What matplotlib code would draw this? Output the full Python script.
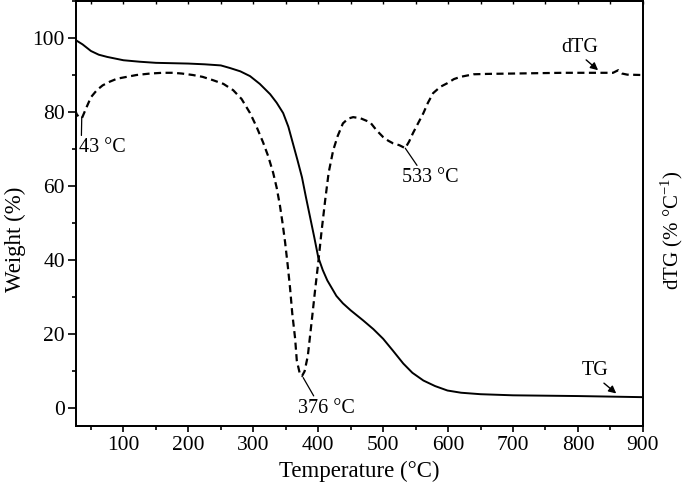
import matplotlib
matplotlib.use("Agg")
import matplotlib.pyplot as plt
from matplotlib.ticker import MultipleLocator

plt.rcParams['font.family'] = ['Liberation Serif', 'DejaVu Serif']
plt.rcParams['mathtext.fontset'] = 'custom'
plt.rcParams['mathtext.rm'] = 'Liberation Serif'

# TG curve (weight %)
tg_temp = [27, 37, 50, 62, 75, 100, 125, 150, 175, 200, 225, 250, 264, 280, 295, 310,
           326, 336, 346, 354, 361, 368, 375, 381, 387.5, 394, 400, 407, 414, 420, 428,
           438, 450, 469, 485, 500, 515, 531, 545, 562, 580, 599, 620, 650, 700, 800, 900]
tg_weight = [99.4, 98.3, 96.5, 95.5, 94.9, 94.0, 93.6, 93.3, 93.2, 93.1, 92.9, 92.6,
             91.9, 91.0, 89.7, 87.6, 84.8, 82.5, 79.7, 76.0, 71.5, 67.0, 62.3, 57.0,
             51.5, 46.0, 40.7, 37.2, 34.4, 32.6, 30.2, 28.2, 26.3, 23.6, 21.2, 18.6,
             15.4, 11.9, 9.4, 7.3, 5.8, 4.6, 4.0, 3.6, 3.3, 3.1, 2.8]

# dTG curve (drawn on the weight scale, right axis has no ticks)
dtg_temp = [25.5, 28.5, 32, 36, 43.5, 50, 59, 68, 79, 90, 105, 120, 141, 160, 176,
            190, 207, 222, 238, 254, 269, 282, 295, 305, 315, 323, 330.5, 336, 341,
            345, 349, 353, 356.7, 360, 364.4, 367, 372, 375, 379, 384, 390.6, 395,
            399.9, 405, 410.7, 416, 423, 430, 438, 446, 453.8, 465, 480, 490, 500,
            508, 515.4, 525, 534, 540, 546, 554, 562, 569, 577, 588, 599, 609, 619,
            639, 660, 700, 777, 829, 854, 862, 868, 876, 900]
dtg_value = [80.5, 79.2, 78.7, 78.3, 81.4, 84.0, 85.9, 87.2, 88.2, 89.0, 89.5, 90.0,
             90.4, 90.6, 90.6, 90.4, 90.0, 89.5, 88.6, 87.6, 85.9, 83.5, 79.7, 76.0,
             71.8, 68.0, 63.6, 59.5, 54.7, 50.0, 44.7, 38.5, 32.2, 25.5, 18.7, 12.7,
             8.9, 8.5, 9.8, 14.0, 24.4, 31.5, 39.0, 47.5, 56.1, 63.5, 69.6, 73.5, 76.9,
             78.2, 78.6, 78.3, 77.2, 75.0, 73.2, 72.2, 71.5, 71.0, 70.2, 72.0, 74.3,
             77.0, 79.7, 82.5, 85.1, 86.8, 87.8, 88.9, 89.5, 90.2, 90.3, 90.4, 90.6,
             90.6, 90.6, 91.3, 90.4, 90.1, 90.0]

x_ticks = [100, 200, 300, 400, 500, 600, 700, 800, 900]
y_ticks = [0, 20, 40, 60, 80, 100]

fig = plt.figure(figsize=(6.85, 4.94), dpi=100)
ax = fig.add_axes([0.111, 0.1377, 0.8275, 0.860])
ax2 = ax.twinx()

ax.plot(tg_temp, tg_weight, color='black', lw=1.4, solid_joinstyle='round')
ax2.plot(dtg_temp, dtg_value, color='black', lw=1.6, linestyle=(0, (3.2, 2.0)))

ax.set_xlim(27, 900)
ax.set_ylim(-5, 110)
ax2.set_ylim(-5, 110)

ax.set_xticks(x_ticks)
ax.set_yticks(y_ticks)
ax.xaxis.set_minor_locator(MultipleLocator(50))
ax.yaxis.set_minor_locator(MultipleLocator(10))

for sp in list(ax.spines.values()) + list(ax2.spines.values()):
    sp.set_linewidth(1.3)

ax.tick_params(axis='x', which='major', direction='out', length=4.5, width=1.2,
               labelsize=15.5, pad=3)
ax.tick_params(axis='x', which='minor', direction='out', length=3, width=1.2)
ax.tick_params(axis='y', which='major', direction='out', length=6, width=1.2,
               labelsize=15.5, pad=2)
ax.tick_params(axis='y', which='minor', direction='out', length=3, width=1.2)
ax2.set_yticks([])

# top ticks inward
secx = ax.secondary_xaxis('top')
secx.set_xticks(x_ticks)
secx.xaxis.set_minor_locator(MultipleLocator(50))
secx.tick_params(which='both', direction='in', length=2, width=1.0, labeltop=False)
secx.spines['top'].set_linewidth(1.3)
ax.tick_params(axis='x', which='both', top=False)

ax.set_xlabel('Temperature (°C)', fontsize=16.5, labelpad=4)
ax.set_ylabel('Weight (%)', fontsize=16.5)
ax.yaxis.set_label_coords(-0.089, 0.44)
ax2.set_ylabel('dTG (% °C$^{-1}$)', fontsize=15)
ax2.yaxis.set_label_coords(1.027, 0.46)

ann = dict(fontsize=14.5)
ax.annotate('43 °C', xy=(35.8, 78.6), xytext=(31.6, 69.1), ha='left', va='baseline',
            arrowprops=dict(arrowstyle='-', lw=0.9, color='black',
                            shrinkA=0, shrinkB=0, relpos=(0.05, 1.0)), **ann)
ax.annotate('376 °C', xy=(376.8, 8.1), xytext=(413, -1.4), ha='center', va='baseline',
            arrowprops=dict(arrowstyle='-', lw=0.9, color='black',
                            shrinkA=0, shrinkB=0, relpos=(0.3, 1.0)), **ann)
ax.annotate('533 °C', xy=(534, 70.2), xytext=(572.5, 61.0), ha='center', va='baseline',
            arrowprops=dict(arrowstyle='-', lw=0.9, color='black',
                            shrinkA=0, shrinkB=0, relpos=(0.3, 1.0)), **ann)
ax.annotate('dTG', xy=(831, 91.3), xytext=(802, 96.2), ha='center', va='baseline',
            arrowprops=dict(arrowstyle='-|>', lw=1.0, color='black', mutation_scale=11,
                            shrinkA=0, shrinkB=0, relpos=(0.6, 0.0)), **ann)
ax.annotate('TG', xy=(859, 3.8), xytext=(826.7, 8.7), ha='center', va='baseline',
            arrowprops=dict(arrowstyle='-|>', lw=1.0, color='black', mutation_scale=11,
                            shrinkA=0, shrinkB=0, relpos=(0.7, 0.0)), **ann)

fig.savefig('out.png', dpi=100)
